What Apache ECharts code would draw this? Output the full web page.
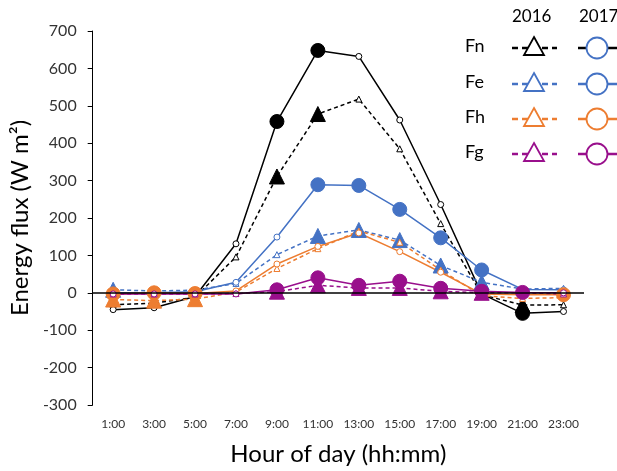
<!DOCTYPE html>
<html>
<head>
<meta charset="utf-8">
<script src="https://cdn.jsdelivr.net/npm/echarts@6/dist/echarts.min.js"></script>
<style>html,body{margin:0;padding:0;background:#fff;}#chart{width:617px;height:471px;}</style>
</head>
<body>
<div id="chart"></div>
<script>
// ---- data ----
const hours = ['1:00','3:00','5:00','7:00','9:00','11:00','13:00','15:00','17:00','19:00','21:00','23:00'];
const yTicks = [-300,-200,-100,0,100,200,300,400,500,600,700];

const fn2016 = [-32,-28,-12,96,311,478,518,385,185,-5,-33,-32];
const fn2017 = [-45,-40,-10,131,458,648,632,462,236,-3,-55,-50];
const fe2016 = [8,5,7,25,102,152,168,141,73,28,10,12];
const fe2017 = [0,0,3,28,149,289,287,223,147,61,9,8];
const fh2016 = [-18,-21,-17,2,65,118,165,135,61,-8,-15,-13];
const fh2017 = [-3,0,-2,5,77,124,160,110,55,-3,-5,-5];
const fg2016 = [-3,-3,-3,-2,3,20,13,13,4,0,0,-3];
const fg2017 = [-3,-3,-3,-3,8,40,20,31,12,4,1,0];

// 1 = significant difference (large filled marker), 0 = not
const fn2016Sig = [0,0,0,0,1,1,0,0,0,0,1,0];
const fn2017Sig = [0,0,0,0,1,1,0,0,0,0,1,0];
const fe2016Sig = [1,0,0,0,0,1,1,1,1,1,0,0];
const fe2017Sig = [0,0,0,0,0,1,1,1,1,1,0,0];
const fh2016Sig = [1,1,1,0,0,0,0,0,0,0,0,0];
const fh2017Sig = [1,1,1,0,0,0,0,0,0,0,0,1];
const fg2016Sig = [0,0,0,0,1,1,1,1,1,1,0,0];
const fg2017Sig = [0,0,0,0,1,1,1,1,1,1,1,0];

const names = ['Fn','Fe','Fh','Fg'];
// ---- styling ----
const COLORS = {Fn:'#000000', Fe:'#4472C4', Fh:'#ED7D31', Fg:'#990F8C'};
const FONT = 'Lato, "Open Sans", sans-serif';

function buildSeries(name, year, vals, sig, color, dashed) {
  const isTri = year === 2016;
  const data = vals.map((v, i) => {
    if (sig[i]) {
      return {value: v, symbol: isTri ? 'triangle' : 'circle', symbolSize: isTri ? 15 : 14,
        itemStyle: {color: color, borderColor: color, borderWidth: 1}};
    }
    return {value: v, symbol: isTri ? 'triangle' : 'circle', symbolSize: 6,
      itemStyle: {color: '#ffffff', borderColor: color, borderWidth: 1}};
  });
  return {
    name: name + ' ' + year, type: 'line', data: data, animation: false,
    lineStyle: {color: color, width: 1.5, type: dashed ? [4, 3] : 'solid'},
    itemStyle: {color: color}, showAllSymbol: true
  };
}

const seriesDefs = [
  ['Fn',2016,fn2016,fn2016Sig,true], ['Fn',2017,fn2017,fn2017Sig,false],
  ['Fe',2016,fe2016,fe2016Sig,true], ['Fe',2017,fe2017,fe2017Sig,false],
  ['Fh',2016,fh2016,fh2016Sig,true], ['Fh',2017,fh2017,fh2017Sig,false],
  ['Fg',2016,fg2016,fg2016Sig,true], ['Fg',2017,fg2017,fg2017Sig,false]
];
const series = seriesDefs.map(d => buildSeries(d[0], d[1], d[2], d[3], COLORS[d[0]], d[4]));
series[0].markLine = {silent: true, symbol: 'none', label: {show: false},
  lineStyle: {color: '#000', width: 1.5, type: 'solid'}, data: [{yAxis: 0}], animation: false};
series[0].z = 1;

// ---- legend (graphic) ----
const legendGraphic = [];
legendGraphic.push({type:'text', left: 512, top: 8, style:{text:'2016', font:'17px ' + FONT, fill:'#000'}});
legendGraphic.push({type:'text', left: 579, top: 8, style:{text:'2017', font:'17px ' + FONT, fill:'#000'}});
const rowY = [48, 84, 119, 154];
const legendCircleColor = {Fn:'#4472C4', Fe:'#4472C4', Fh:'#ED7D31', Fg:'#990F8C'};
names.forEach((n, i) => {
  const y = rowY[i], c = COLORS[n];
  legendGraphic.push({type:'text', left: 465, top: y - 11, style:{text:n, font:'18px ' + FONT, fill:'#000'}});
  legendGraphic.push({type:'line', shape:{x1:512, y1:y, x2:557, y2:y}, style:{stroke:c, lineWidth:2.5, lineDash:[6,4]}});
  legendGraphic.push({type:'polygon', shape:{points:[[534, y-11],[544, y+7],[524, y+7]]}, style:{fill:'#fff', stroke:c, lineWidth:1.8}});
  legendGraphic.push({type:'line', shape:{x1:578, y1:y, x2:617, y2:y}, style:{stroke:c, lineWidth:2.5}});
  legendGraphic.push({type:'circle', shape:{cx:597, cy:y, r:10.5}, style:{fill:'#fff', stroke:legendCircleColor[n], lineWidth:1.8}});
});

const chart = echarts.init(document.getElementById('chart'), null, {renderer: 'canvas'});
chart.setOption({
  backgroundColor: '#ffffff',
  animation: false,
  grid: {left: 86, right: 33, top: 31, bottom: 59, containLabel: false},
  xAxis: {
    type: 'category', data: hours, boundaryGap: true,
    axisLine: {show: false}, axisTick: {show: false}, splitLine: {show: false},
    axisLabel: {color: '#333', fontSize: 12, fontFamily: FONT, margin: 13, interval: 0},
    name: 'Hour of day (hh:mm)', nameLocation: 'middle', nameGap: 37,
    nameTextStyle: {fontSize: 24, fontFamily: FONT, color: '#000'}
  },
  yAxis: {
    type: 'value', min: -300, max: 700, interval: 100,
    axisLine: {show: true, lineStyle: {color: '#000', width: 1}},
    axisTick: {show: true, length: 5, lineStyle: {color: '#000'}},
    splitLine: {show: false},
    axisLabel: {color: '#333', fontSize: 16, fontFamily: FONT, margin: 16,
      customValues: yTicks},
    name: 'Energy flux (W m²)', nameLocation: 'middle', nameGap: 42,
    nameTextStyle: {fontSize: 24, fontFamily: FONT, color: '#000'}
  },
  series: series,
  graphic: legendGraphic
});
</script>
</body>
</html>
